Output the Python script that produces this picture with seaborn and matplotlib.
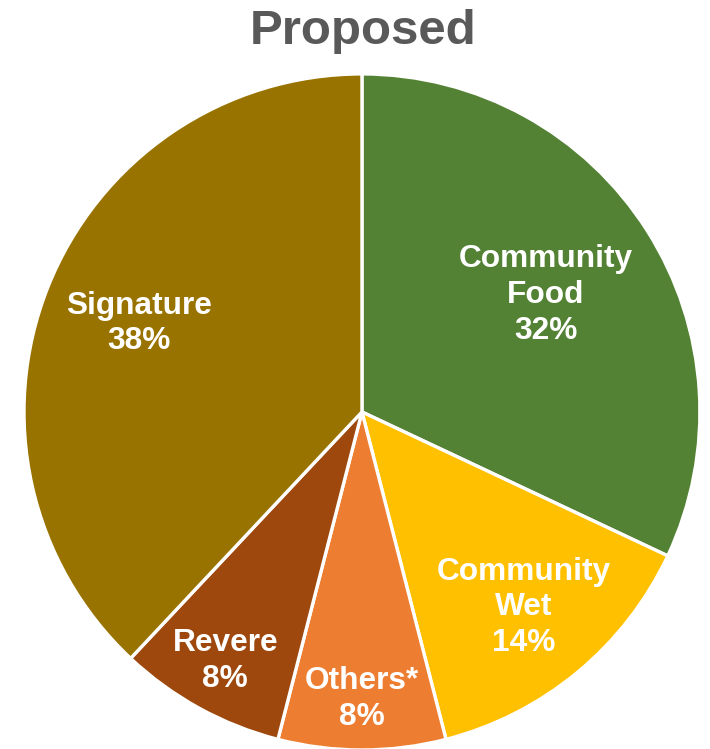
import matplotlib
matplotlib.use("Agg")
import matplotlib.pyplot as plt
import seaborn as sns
import numpy as np

categories = ["Community\nFood", "Community\nWet", "Others*", "Revere", "Signature"]
values = [32, 14, 8, 8, 38]
colors = ["#548235", "#FFC000", "#ED7D31", "#9E480E", "#997300"]
label_radius = [0.645, 0.75, 0.85, 0.84, 0.71]

sns.set_theme(style="white")
plt.rcParams['font.family'] = ['Liberation Sans', 'DejaVu Sans']

fig = plt.figure(figsize=(7.1, 7.49), dpi=100)
ax = fig.add_axes([0.0338, -0.0013, 0.952, 0.9026])
wedges, _ = ax.pie(values, colors=colors, startangle=90, counterclock=False,
                   wedgeprops=dict(edgecolor="white", linewidth=2.4), radius=1.0)
ax.set_xlim(-1.0, 1.0)
ax.set_ylim(-1.0, 1.0)
ax.set_aspect("auto")
ax.axis("off")

for w, cat, v, r in zip(wedges, categories, values, label_radius):
    ang = np.deg2rad((w.theta1 + w.theta2) / 2)
    ax.text(r * np.cos(ang), r * np.sin(ang), f"{cat}\n{v}%", ha="center", va="center",
            color="white", fontsize=22.8, fontweight="bold", linespacing=1.25)

fig.text(0.511, 0.958, "Proposed", ha="center", va="center", fontsize=35.5,
         fontweight="bold", color="#595959")

fig.savefig("out.png", dpi=100)
